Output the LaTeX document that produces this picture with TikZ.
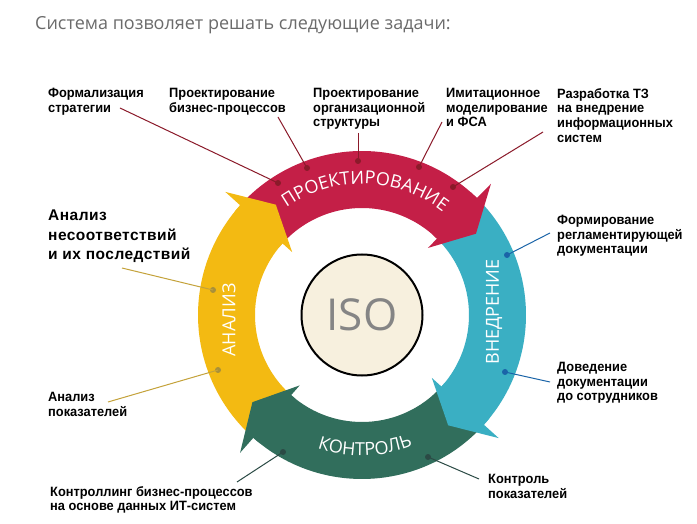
\documentclass[tikz,border=0pt]{standalone}
\usepackage{fontspec}
\usetikzlibrary{calc,decorations.text}
\newfontfamily\osans{Open Sans}
\newfontfamily\lsans[FakeStretch=0.95]{Liberation Sans}
\newfontfamily\lsanswide[LetterSpace=3]{Liberation Sans}
\definecolor{cRed}{HTML}{C41F47}
\definecolor{cBlue}{HTML}{3AAFC3}
\definecolor{cGreen}{HTML}{316E5C}
\definecolor{cYellow}{HTML}{F3BA12}
\definecolor{cCream}{HTML}{F7F0DE}
\definecolor{cIso}{HTML}{858585}
\definecolor{cTitle}{HTML}{6B6B6B}
\definecolor{lRed}{HTML}{8B1A2A}
\definecolor{lBlue}{HTML}{1A64A8}
\definecolor{lYellow}{HTML}{C4A23A}
\definecolor{dYellow}{HTML}{A8903A}
\definecolor{lGreen}{HTML}{2B4A45}
\def\Ro{164pt}\def\Ri{107pt}\def\Rt{140pt}\def\Rfo{184pt}\def\Rfi{94pt}
\newcommand\ringbody[3]{\fill[#1] ($(C)+(#2:\Ro)$) arc[start angle=#2, end angle=#3, radius=\Ro] -- ($(C)+(#3:\Ri)$) arc[start angle=#3, end angle=#2, radius=\Ri] -- cycle;}
\newcommand\ringhead[2]{\fill[#1] ($(C)+({#2+3}:\Ro)$) -- ($(C)+(#2:\Ro)$) -- ($(C)+(#2:\Rfo)$) -- ($(C)+({#2-10}:\Rt)$) -- ($(C)+(#2:\Rfi)$) -- ($(C)+(#2:\Ri)$) -- ($(C)+({#2+3}:\Ri)$) -- cycle;}
\tikzset{
  lbl/.style={anchor=north west, inner sep=0pt, align=left, font=\lsans\bfseries\fontsize{13.5}{14.7}\selectfont, text=black},
  biglbl/.style={anchor=north west, inner sep=0pt, align=left, font=\lsanswide\bfseries\fontsize{15.5}{19.5}\selectfont, text=black},
  dotn/.style={circle, inner sep=0pt, minimum size=6pt},
  callout/.style={line width=1pt},
  ringtext/.style={decorate, decoration={text along path, text align=center, text color=white, text={|\osans\fontsize{18}{18}\selectfont|#1}}},
  ringword/.style={inner sep=0pt, text=white, font=\osans\fontsize{18}{18}\selectfont},
}
\begin{document}
\begin{tikzpicture}[x=1pt,y=1pt]
\useasboundingbox (0,0) rectangle (697,523);
\fill[white] (0,0) rectangle (697,523);
\coordinate (C) at (362,208);
% title
\node[anchor=base west, inner sep=0pt, font=\osans\fontsize{18}{18}\selectfont, text=cTitle] (title) at (35,493) {Система позволяет решать следующие задачи:};
% ring bodies
\ringbody{cRed}{138}{45.5}
\ringbody{cBlue}{45.5}{-42}
\ringbody{cGreen}{-42}{-131.5}
\ringbody{cYellow}{228.5}{138}
% heads
\ringhead{cRed}{45.5}
\ringhead{cBlue}{-42}
\ringhead{cGreen}{-131.5}
\ringhead{cYellow}{138}
% ring words
\path[ringtext={ПРОЕКТИРОВАНИЕ}] ($(C)+(168.5:131pt)$) arc[start angle=168.5, end angle=8.5, radius=131pt];
\path[ringtext={КОНТРОЛЬ}] ($(C)+(-168.7:140.5pt)$) arc[start angle=-168.7, end angle=-8.7, radius=140.5pt];
\node[ringword, rotate=90] (wvn) at (494,211) {ВНЕДРЕНИЕ};
\node[ringword, rotate=90] (wan) at (229,203) {АНАЛИЗ};
% ISO
\node[circle, draw=black, line width=2pt, fill=cCream, minimum size=121pt, inner sep=0pt, text=cIso, font=\osans\fontsize{44}{44}\selectfont] (iso) at (C) {ISO};
% labels
\node[lbl] (l1) at (48,435) {Формализация\\стратегии};
\node[lbl] (l2) at (169,435) {Проектирование\\бизнес-процессов};
\node[lbl] (l3) at (313,435) {Проектирование\\организационной\\структуры};
\node[lbl] (l4) at (446,435) {Имитационное\\моделирование\\и ФСА};
\node[lbl] (l5) at (557,435) {Разработка ТЗ\\на внедрение\\информационных\\систем};
\node[biglbl] (l6) at (48,313) {Анализ\\несоответствий\\и их последствий};
\node[lbl] (l7) at (48,131) {Анализ\\показателей};
\node[lbl] (l8) at (557,308) {Формирование\\регламентирующей\\документации};
\node[lbl] (l9) at (557,161) {Доведение\\документации\\до сотрудников};
\node[lbl] (l10) at (50,37) {Контроллинг бизнес-процессов\\на основе данных ИТ-систем};
\node[lbl] (l11) at (488,49) {Контроль\\показателей};
% dots
\node[dotn, fill=lRed] (d1) at (278,340) {};
\node[dotn, fill=lRed] (d2) at (307,355) {};
\node[dotn, fill=lRed] (d3) at (358,362) {};
\node[dotn, fill=lRed] (d4) at (419,356) {};
\node[dotn, fill=lRed] (d5) at (453,336) {};
\node[dotn, fill=dYellow] (d6) at (213,233) {};
\node[dotn, fill=dYellow] (d7) at (218,153) {};
\node[dotn, fill=lBlue] (d8) at (507,268) {};
\node[dotn, fill=lBlue] (d9) at (505,151) {};
\node[dotn, fill=lGreen] (d10) at (283,71) {};
\node[dotn, fill=lGreen] (d11) at (428,66) {};
% free ends
\coordinate (e1) at (120,415);
\coordinate (e2) at (278,406);
\coordinate (e3) at (358,390);
\coordinate (e4) at (442,401);
\coordinate (e5) at (543,391);
\coordinate (e6) at (122,255);
\coordinate (e7) at (108,121);
\coordinate (e8) at (550,290);
\coordinate (e9) at (550,141);
\coordinate (e10) at (237,41);
\coordinate (e11) at (479,44);
% connectors
\draw[callout, lRed] (e1) -- (d1.center);
\draw[callout, lRed] (e2) -- (d2.center);
\draw[callout, lRed] (e3) -- (d3.center);
\draw[callout, lRed] (e4) -- (d4.center);
\draw[callout, lRed] (e5) -- (d5.center);
\draw[callout, lYellow] (e6) -- (d6.center);
\draw[callout, lYellow] (e7) -- (d7.center);
\draw[callout, lBlue] (e8) -- (d8.center);
\draw[callout, lBlue] (e9) -- (d9.center);
\draw[callout, lGreen] (e10) -- (d10.center);
\draw[callout, lGreen] (e11) -- (d11.center);
\end{tikzpicture}
\end{document}
